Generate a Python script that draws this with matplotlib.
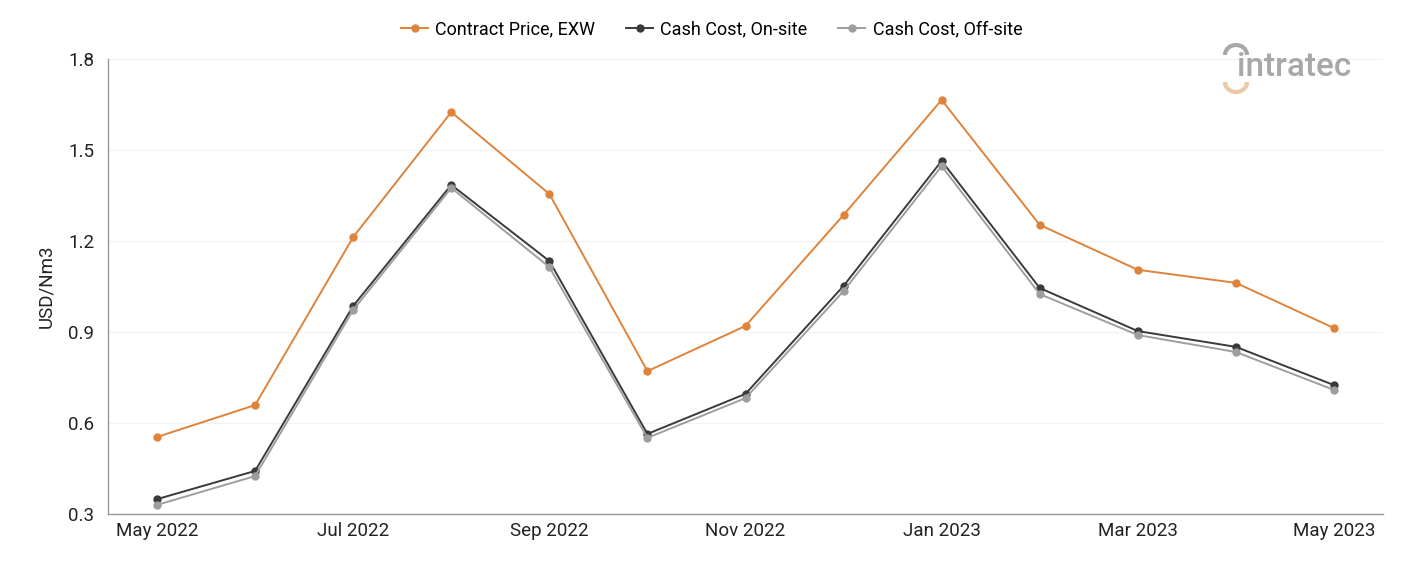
import matplotlib
matplotlib.use("Agg")
import matplotlib.pyplot as plt
from matplotlib.patches import Arc
import numpy as np

plt.rcParams['font.family'] = ['Roboto', 'DejaVu Sans']

months = ['May 2022', 'Jun 2022', 'Jul 2022', 'Aug 2022', 'Sep 2022', 'Oct 2022', 'Nov 2022',
          'Dec 2022', 'Jan 2023', 'Feb 2023', 'Mar 2023', 'Apr 2023', 'May 2023']
contract_price = [0.554, 0.659, 1.213, 1.625, 1.355, 0.771, 0.920, 1.286, 1.665, 1.253, 1.105, 1.062, 0.913]
cost_onsite = [0.349, 0.442, 0.986, 1.385, 1.134, 0.564, 0.696, 1.052, 1.464, 1.045, 0.903, 0.851, 0.725]
cost_offsite = [0.330, 0.425, 0.973, 1.375, 1.114, 0.551, 0.682, 1.035, 1.447, 1.025, 0.890, 0.834, 0.709]
yticks = [0.3, 0.6, 0.9, 1.2, 1.5, 1.8]

fig = plt.figure(figsize=(14.01, 5.61), dpi=100)
ax = fig.add_axes([108 / 1401, 1 - 514 / 561, (1383 - 108) / 1401, (514 - 59) / 561])

x = np.arange(len(months))
series = [
    (contract_price, '#e0833a', 'Contract Price, EXW'),
    (cost_onsite, '#3a3a3a', 'Cash Cost, On-site'),
    (cost_offsite, '#9e9e9e', 'Cash Cost, Off-site'),
]
for vals, col, name in series:
    ax.plot(x, vals, color=col, linewidth=1.4, marker='o', markersize=5, label=name)

ax.set_xlim(-0.5, len(months) - 0.5)
ax.set_ylim(0.3, 1.8)
ax.set_yticks(yticks)
ax.set_yticklabels([f'{v:.1f}' for v in yticks])
ax.set_xticks(x[::2])
ax.set_xticklabels(months[::2])
ax.tick_params(axis='both', length=0, labelsize=13.5, colors='#222222')
ax.tick_params(axis='x', pad=6)
ax.tick_params(axis='y', pad=10)
ax.grid(axis='y', color='#f2f2f2', linewidth=0.8)
ax.set_axisbelow(True)
for s in ['top', 'right']:
    ax.spines[s].set_visible(False)
for s in ['left', 'bottom']:
    ax.spines[s].set_color('#999999')
    ax.spines[s].set_linewidth(1.0)
ax.set_ylabel('USD/Nm3', fontsize=13.5, color='#222222', labelpad=9)

fig.legend(loc='upper center', bbox_to_anchor=(0.508, 0.993), ncol=3, frameon=False,
           fontsize=13, handlelength=1.5, columnspacing=1.7, handletextpad=0.4)

# logo
fig.text(1237 / 1401, 1 - 67 / 561, 'intratec', fontsize=24, color='#a8a8a8',
         ha='left', va='center', fontweight='medium')
fig.add_artist(Arc((1236 / 1401, 1 - 55 / 561), 22 / 1401, 20 / 561, theta1=0, theta2=180,
                   color='#a8a8a8', linewidth=3, transform=fig.transFigure))
fig.add_artist(Arc((1236 / 1401, 1 - 82 / 561), 22 / 1401, 20 / 561, theta1=180, theta2=360,
                   color='#ecc9a6', linewidth=3, transform=fig.transFigure))

fig.savefig('out.png', dpi=100, facecolor='white')
